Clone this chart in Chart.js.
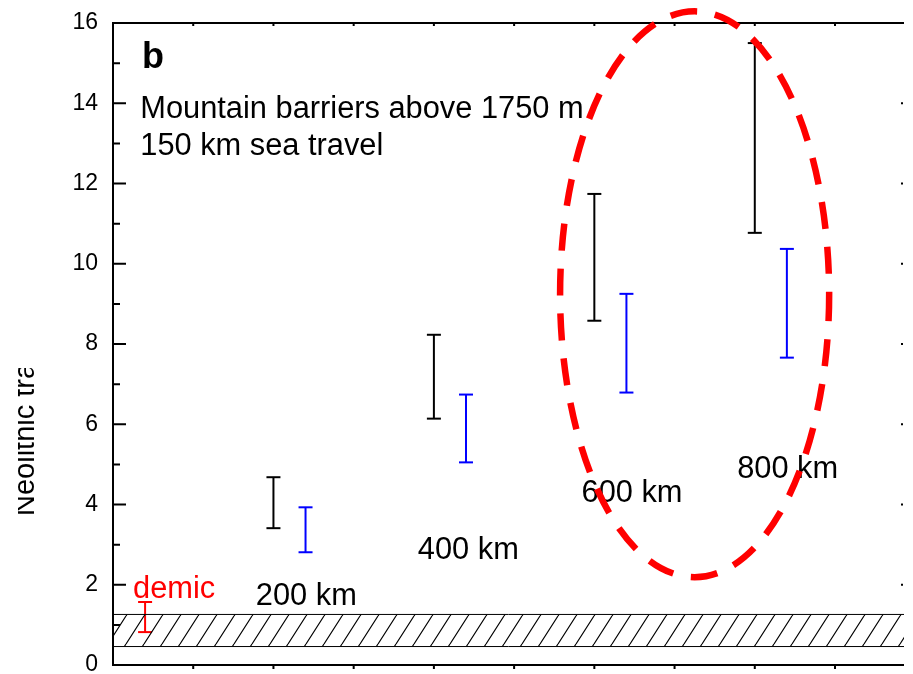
<!DOCTYPE html>
<html>
<head>
<meta charset="utf-8">
<script src="https://cdn.jsdelivr.net/npm/chart.js@4/dist/chart.umd.min.js"></script>
<style>
  html, body { margin: 0; padding: 0; background: #fff; }
  #wrap { width: 913px; height: 674px; }
</style>
</head>
<body>
<div id="wrap"><canvas id="c"></canvas></div>
<script>
// x runs 0..10, one unit per bottom tick (the plot is cropped just short of 10)
const barX    = [0.4, 2.0, 2.4, 4.0, 4.4, 6.0, 6.4, 8.0, 8.4];
const barLow  = [0.82, 3.41, 2.81, 6.14, 5.05, 8.58, 6.79, 10.77, 7.66];
const barHigh = [1.57, 4.68, 3.93, 8.23, 6.74, 11.74, 9.25, 15.50, 10.37];
const barKind = ["demic", "black", "blue", "black", "blue", "black", "blue", "black", "blue"];

const distances = ["200 km", "400 km", "600 km", "800 km"];
const yTicks = [0, 2, 4, 6, 8, 10, 12, 14, 16];

// hatched band of observed values
const bandLow = 0.46;
const bandHigh = 1.26;

// dashed ellipse around the 600/800 km groups (centre and radii in data units)
const ringCenter = [7.25, 9.24];
const ringRadius = [1.677, 7.05];

const X_MAX = 9.86;
const KIND_COLOR = { demic: "#ff0000", black: "#000000", blue: "#0000ff" };
const FONT = "'Liberation Sans', Arial, sans-serif";

// text placement (data units, left edge / baseline)
const textSpots = [
  { t: "b", x: 0.36, y: 14.88, size: 36, bold: true },
  { t: "Mountain barriers above 1750 m", x: 0.34, y: 13.63, size: 30.8 },
  { t: "150 km sea travel", x: 0.34, y: 12.71, size: 30.8 },
  { t: "demic", x: 0.25, y: 1.67, size: 30.8, color: "#ff0000" },
  { t: distances[0], x: 1.78, y: 1.49, size: 30.8 },
  { t: distances[1], x: 3.80, y: 2.64, size: 30.8 },
  { t: distances[2], x: 5.84, y: 4.05, size: 30.8 },
  { t: distances[3], x: 7.78, y: 4.65, size: 30.8 },
];

// diagonal hatch tile
function hatchPattern() {
  const w = 18, h = 28;
  const tile = document.createElement("canvas");
  tile.width = w; tile.height = h;
  const g = tile.getContext("2d");
  g.strokeStyle = "#000"; g.lineWidth = 1.2;
  g.beginPath();
  for (let k = -1; k <= 1; k++) { g.moveTo(k * w, h); g.lineTo(k * w + w, 0); }
  g.stroke();
  return g.createPattern(tile, "repeat");
}

const errorSets = barX.map((x, i) => ({
  data: [{ x, y: barLow[i] }, { x, y: barHigh[i] }],
  borderColor: KIND_COLOR[barKind[i]],
  borderWidth: 2,
  pointStyle: "line",
  pointRadius: 7,
  pointBorderWidth: 2,
  pointBorderColor: KIND_COLOR[barKind[i]],
  showLine: true,
  fill: false,
}));

const bandSets = [
  { data: [{ x: 0, y: bandLow }, { x: X_MAX, y: bandLow }], borderColor: "#000", borderWidth: 1, pointRadius: 0, fill: false },
  { data: [{ x: 0, y: bandHigh }, { x: X_MAX, y: bandHigh }], borderColor: "#000", borderWidth: 1, pointRadius: 0, fill: "-1", backgroundColor: hatchPattern() },
];

const decor = {
  id: "decor",
  afterDatasetsDraw(chart) {
    const { ctx, chartArea: a, scales: { x, y } } = chart;
    ctx.save();
    ctx.strokeStyle = "#000";
    ctx.lineWidth = 2;
    ctx.beginPath();
    ctx.moveTo(a.left, a.top); ctx.lineTo(a.right, a.top);
    ctx.moveTo(a.left, a.bottom); ctx.lineTo(a.right, a.bottom);
    // inward ticks on the left axis, minor every 1
    for (let v = 0; v <= 16; v++) {
      const py = y.getPixelForValue(v);
      ctx.moveTo(a.left, py); ctx.lineTo(a.left + (v % 2 ? 7 : 13), py);
    }
    // stubs of the (cropped) right axis ticks
    yTicks.forEach((v) => {
      const py = y.getPixelForValue(v);
      ctx.moveTo(a.right - 3, py); ctx.lineTo(a.right - 1, py);
    });
    // top and bottom x ticks
    for (let v = 1; v < X_MAX; v++) {
      const px = x.getPixelForValue(v);
      ctx.moveTo(px, a.top); ctx.lineTo(px, a.top + 3);
      ctx.moveTo(px, a.bottom); ctx.lineTo(px, a.bottom + 4);
    }
    ctx.stroke();

    // annotations
    textSpots.forEach((s) => {
      ctx.font = `${s.bold ? "bold " : ""}${s.size}px ${FONT}`;
      ctx.fillStyle = s.color || "#000";
      ctx.textAlign = "left";
      ctx.textBaseline = "alphabetic";
      ctx.fillText(s.t, x.getPixelForValue(s.x), y.getPixelForValue(s.y));
    });

    // dashed ellipse
    const cx = x.getPixelForValue(ringCenter[0]);
    const cy = y.getPixelForValue(ringCenter[1]);
    const rx = x.getPixelForValue(ringCenter[0] + ringRadius[0]) - cx;
    const ry = cy - y.getPixelForValue(ringCenter[1] + ringRadius[1]);
    ctx.strokeStyle = "#ff0000";
    ctx.lineWidth = 6.5;
    ctx.setLineDash([27, 18]);
    ctx.beginPath();
    ctx.ellipse(cx, cy, rx, ry, 0, 0, Math.PI * 2);
    ctx.stroke();
    ctx.setLineDash([]);

    // y title, cropped in the source figure
    ctx.beginPath();
    ctx.rect(18, 368, 60, 306);
    ctx.clip();
    ctx.translate(34, 516);
    ctx.rotate(-Math.PI / 2);
    ctx.font = `29px ${FONT}`;
    ctx.fillStyle = "#000";
    ctx.fillText("Neolithic tra", 0, 0);
    ctx.restore();
  },
};

new Chart(document.getElementById("c"), {
  type: "line",
  data: { datasets: [...bandSets, ...errorSets] },
  options: {
    responsive: true,
    maintainAspectRatio: false,
    animation: false,
    events: [],
    layout: { padding: { left: 0, top: 23, right: 9, bottom: 8 } },
    plugins: { legend: { display: false }, tooltip: { enabled: false } },
    scales: {
      x: { type: "linear", min: 0, max: X_MAX, display: false },
      y: {
        type: "linear",
        min: 0,
        max: 16,
        afterBuildTicks: (s) => { s.ticks = yTicks.map((v) => ({ value: v })); },
        afterFit: (s) => { s.width = 113; s.paddingTop = 0; s.paddingBottom = 0; },
        grid: { display: false, drawTicks: false },
        border: { display: true, color: "#000", width: 2 },
        ticks: { color: "#000", padding: 15, font: { family: FONT, size: 23 } },
      },
    },
  },
  plugins: [decor],
});
</script>
</body>
</html>
